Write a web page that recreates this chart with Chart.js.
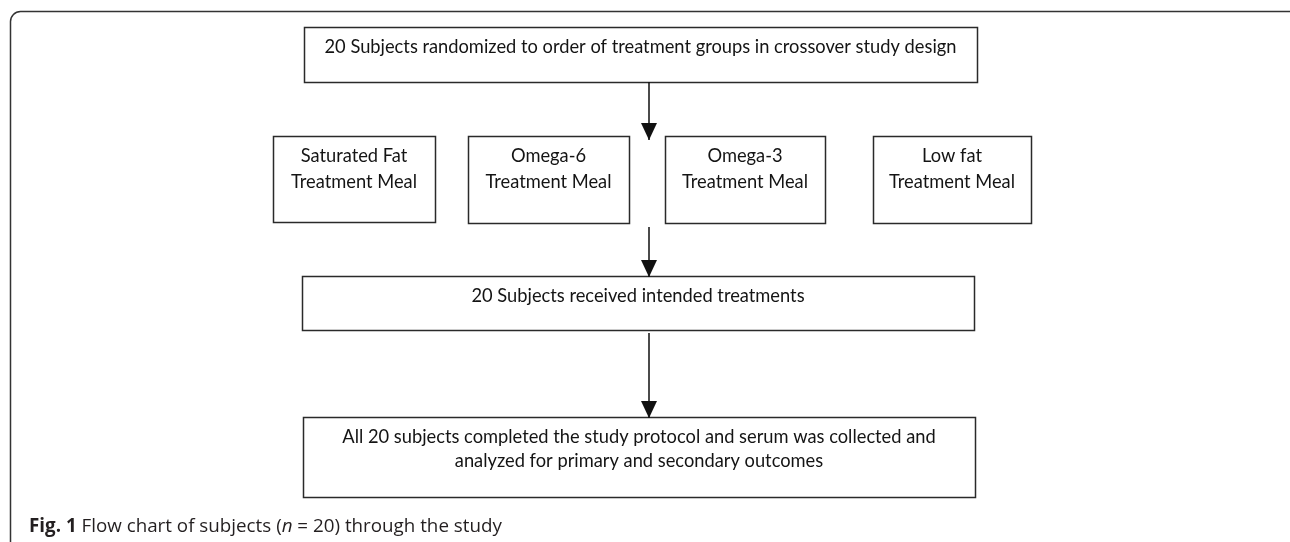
<!DOCTYPE html>
<html>
<head>
<meta charset="utf-8">
<title>Flow chart of subjects</title>
<script src="https://cdn.jsdelivr.net/npm/chart.js@4.4.1/dist/chart.umd.min.js"></script>
<style>
  html, body { margin: 0; padding: 0; background: #fff; }
  #wrap { width: 1290px; height: 542px; position: relative; }
</style>
</head>
<body>
<div id="wrap"><canvas id="flow"></canvas></div>
<script>
// ---------- Dados do fluxograma ----------
var caixaTexto = [
  ["20 Subjects randomized to order of treatment groups in crossover study design"],
  ["Saturated Fat", "Treatment Meal"],
  ["Omega-6", "Treatment Meal"],
  ["Omega-3", "Treatment Meal"],
  ["Low fat", "Treatment Meal"],
  ["20 Subjects received intended treatments"],
  ["All 20 subjects completed the study protocol and serum was collected and",
   "analyzed for primary and secondary outcomes"]
];
// limites de cada caixa (unidades da escala)
var caixaX0 = [304, 273, 468, 665, 873, 302, 303];
var caixaX1 = [977, 435, 629, 825, 1031, 974, 975];
var caixaY0 = [27, 136, 136, 136, 136, 276, 417];
var caixaY1 = [82, 222, 223, 223, 223, 330, 497];

// setas: x, y inicial, y final (ponta)
var setaX = [649, 649, 649];
var setaY0 = [82, 227, 333];
var setaY1 = [140, 277, 418];

var legendaNegrito = "Fig. 1";
var legendaPartes = [" Flow chart of subjects (", "n", " = 20) through the study"];

(function () {
  "use strict";

  var FONTE = '"Lato", "Liberation Sans", sans-serif';
  var FONTE_LEGENDA = '"Open Sans", sans-serif';
  var COR_LINHA = "#2a2a2a";

  function px(chart, x, y) {
    return { x: chart.scales.x.getPixelForValue(x), y: chart.scales.y.getPixelForValue(y) };
  }

  // moldura arredondada + caixas + pontas das setas + legenda
  var desenho = {
    id: "fluxo",
    beforeDatasetsDraw: function (chart) {
      var ctx = chart.ctx;
      ctx.save();
      // moldura externa
      ctx.strokeStyle = "#333";
      ctx.lineWidth = 1.5;
      ctx.beginPath();
      ctx.roundRect(10.5, 11.5, 1290, 540, 10);
      ctx.stroke();

      // caixas
      ctx.lineWidth = 1.5;
      ctx.strokeStyle = COR_LINHA;
      ctx.fillStyle = "#141414";
      ctx.font = "18.3px " + FONTE;
      ctx.textAlign = "center";
      ctx.textBaseline = "middle";
      for (var i = 0; i < caixaTexto.length; i++) {
        var a = px(chart, caixaX0[i], caixaY0[i]);
        var b = px(chart, caixaX1[i], caixaY1[i]);
        ctx.strokeRect(Math.round(a.x) + 0.5, Math.round(a.y) + 0.5, Math.round(b.x - a.x), Math.round(b.y - a.y));
        var cx = (a.x + b.x) / 2;
        var passo = caixaTexto[i].length > 1 && i < 5 ? 26 : 24;
        caixaTexto[i].forEach(function (linha, k) {
          ctx.fillText(linha, cx, a.y + 20 + k * passo);
        });
      }

      // legenda
      ctx.textAlign = "left";
      ctx.fillStyle = "#231f20";
      var x = 29, y = 527;
      ctx.font = "bold 18.8px " + FONTE_LEGENDA;
      ctx.fillText(legendaNegrito, x, y);
      x += ctx.measureText(legendaNegrito).width;
      legendaPartes.forEach(function (t, k) {
        ctx.font = (k === 1 ? "italic " : "") + "18.8px " + FONTE_LEGENDA;
        ctx.fillText(t, x, y);
        x += ctx.measureText(t).width;
      });
      ctx.restore();
    },
    afterDatasetsDraw: function (chart) {
      var ctx = chart.ctx;
      ctx.save();
      ctx.fillStyle = "#111";
      chart.data.datasets.forEach(function (ds, i) {
        var meta = chart.getDatasetMeta(i);
        var p = meta.data[meta.data.length - 1];
        ctx.beginPath();
        ctx.moveTo(p.x, p.y);
        ctx.lineTo(p.x - 8, p.y - 17);
        ctx.lineTo(p.x + 8, p.y - 17);
        ctx.closePath();
        ctx.fill();
      });
      ctx.restore();
    }
  };

  var conjuntos = setaX.map(function (x, i) {
    return {
      data: [{ x: x, y: setaY0[i] }, { x: x, y: setaY1[i] }],
      borderColor: "#111",
      borderWidth: 1.5,
      pointRadius: 0,
      showLine: true,
      fill: false
    };
  });

  new Chart(document.getElementById("flow"), {
    type: "scatter",
    data: { datasets: conjuntos },
    options: {
      responsive: true,
      maintainAspectRatio: false,
      animation: false,
      layout: { padding: 0 },
      scales: {
        x: { type: "linear", min: 0, max: 1290, display: false },
        y: { type: "linear", min: 0, max: 542, reverse: true, display: false }
      },
      plugins: { legend: { display: false }, tooltip: { enabled: false }, title: { display: false } }
    },
    plugins: [desenho]
  });
})();
</script>
</body>
</html>
